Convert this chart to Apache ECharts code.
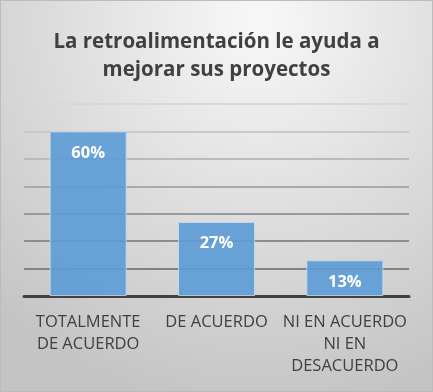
<!DOCTYPE html>
<html>
<head>
<meta charset="utf-8">
<script src="https://cdn.jsdelivr.net/npm/echarts@6/dist/echarts.min.js"></script>
<style>
html,body{margin:0;padding:0;background:#fff;}
#c{width:433px;height:392px;box-sizing:border-box;border:1px solid #bcbcbc;}
</style>
</head>
<body>
<div id="c"></div>
<script>
const titleText = 'La retroalimentación le ayuda a\nmejorar sus proyectos';
const categories = ['TOTALMENTE\nDE ACUERDO', 'DE ACUERDO', 'NI EN ACUERDO\nNI EN\nDESACUERDO'];
const values = [60, 27, 13];
const axisMin = 0, axisMax = 70, axisStep = 10;

const chart = echarts.init(document.getElementById('c'));
chart.setOption({
  backgroundColor: {
    type: 'radial', x: 0.6, y: 0.05, r: 1.0,
    colorStops: [{offset: 0, color: '#f8f8f8'}, {offset: 1, color: '#c4c4c4'}]
  },
  title: {
    text: titleText, left: 'center', top: 22,
    textStyle: {fontFamily: 'Open Sans', fontWeight: 'bold', fontSize: 20.5, lineHeight: 28, color: '#404040'}
  },
  grid: {left: 23, right: 23, top: 103, bottom: 95},
  xAxis: {
    type: 'category', data: categories,
    axisLine: {lineStyle: {color: '#404040', width: 3}},
    axisTick: {show: false},
    axisLabel: {interval: 0, margin: 15, fontFamily: 'Open Sans', fontSize: 16.5, lineHeight: 22, color: '#404040'}
  },
  yAxis: {
    type: 'value', min: axisMin, max: axisMax, interval: axisStep,
    axisLabel: {show: false}, axisLine: {show: false}, axisTick: {show: false},
    splitLine: {lineStyle: {width: 2, color: ['#404040', '#828282', '#8d8d8d', '#9a9a9a', '#a9a9a9', '#bababa', '#c9c9c9', '#d8d8d8']}}
  },
  series: [{
    type: 'bar', data: values, barCategoryGap: '40%',
    itemStyle: {color: 'rgba(91,155,213,0.9)', borderColor: 'rgba(200,222,242,0.8)', borderWidth: 1},
    label: {show: true, position: 'insideTop', distance: 13, formatter: '{c}%',
      fontFamily: 'Open Sans', fontWeight: 'bold', fontSize: 16.5, color: '#ffffff'}
  }]
});
</script>
</body>
</html>
